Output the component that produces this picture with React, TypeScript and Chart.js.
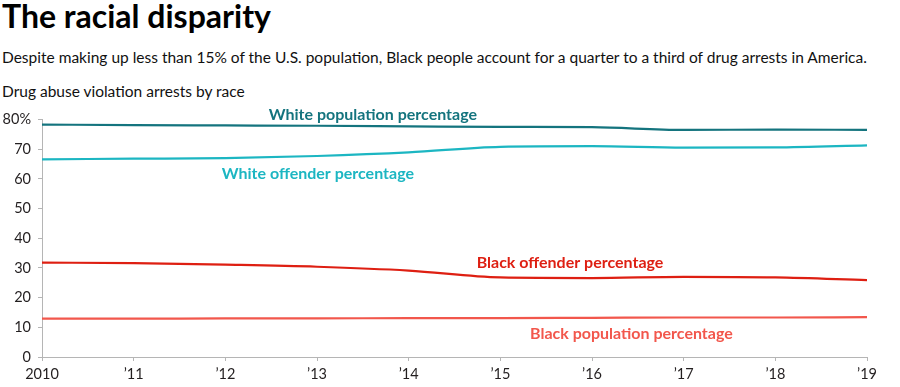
import React, { useEffect, useRef } from "react";
import { Chart, registerables } from "chart.js";

Chart.register(...registerables);

// ---- data ----
const years = [2010, 2011, 2012, 2013, 2014, 2015, 2016, 2017, 2018, 2019];
const xTickLabels = ["2010", "\u201911", "\u201912", "\u201913", "\u201914", "\u201915", "\u201916", "\u201917", "\u201918", "\u201919"];
const whitePopulation = [78.3, 78.1, 78.0, 77.9, 77.7, 77.5, 77.4, 76.5, 76.6, 76.5];
const whiteOffender = [66.6, 66.8, 67.0, 67.7, 68.9, 70.8, 71.0, 70.5, 70.6, 71.3];
const blackOffender = [31.8, 31.6, 31.1, 30.4, 29.1, 26.8, 26.6, 27.0, 26.8, 25.9];
const blackPopulation = [12.9, 12.9, 13.0, 13.0, 13.1, 13.1, 13.2, 13.3, 13.3, 13.4];
const seriesNames = [
  "White population percentage",
  "White offender percentage",
  "Black offender percentage",
  "Black population percentage",
];
// label anchors in data units (year, percent)
const labelYears = [2013.61, 2013.01, 2015.76, 2016.43];
const labelValues = [81.6, 61.6, 31.6, 7.7];

const TITLE = "The racial disparity";
const SUBTITLE =
  "Despite making up less than 15% of the U.S. population, Black people account for a quarter to a third of drug arrests in America.";
const CHART_TITLE = "Drug abuse violation arrests by race";

const lineColors = ["#14747e", "#1cb6c2", "#de1f12", "#f2574c"];
const textColors = ["#14747e", "#1cb6c2", "#de1f12", "#f2574c"];
const FONT = "Lato, 'Open Sans', sans-serif";

const labelPlugin = {
  id: "seriesLabels",
  afterDatasetsDraw(chart: any) {
    const { ctx, scales } = chart;
    ctx.save();
    ctx.font = `bold 16px ${FONT}`;
    ctx.textAlign = "center";
    ctx.textBaseline = "middle";
    seriesNames.forEach((name, i) => {
      ctx.fillStyle = textColors[i];
      ctx.fillText(name, scales.x.getPixelForValue(labelYears[i]), scales.y.getPixelForValue(labelValues[i]));
    });
    ctx.restore();
  },
};

function LineChart() {
  const ref = useRef<HTMLCanvasElement | null>(null);
  useEffect(() => {
    if (!ref.current) return;
    const series = [whitePopulation, whiteOffender, blackOffender, blackPopulation];
    const chart = new Chart(ref.current, {
      type: "line",
      data: {
        datasets: series.map((arr, i) => ({
          label: seriesNames[i],
          data: years.map((x, j) => ({ x, y: arr[j] })),
          borderColor: lineColors[i],
          backgroundColor: lineColors[i],
          borderWidth: 2.2,
          pointRadius: 0,
          cubicInterpolationMode: "monotone" as const,
          fill: false,
        })),
      },
      options: {
        responsive: false,
        animation: false,
        layout: { padding: { left: 0, right: 33, top: 19.5, bottom: 0 } },
        plugins: { legend: { display: false }, tooltip: { enabled: false }, title: { display: false } },
        scales: {
          x: {
            type: "linear",
            min: 2010,
            max: 2019,
            afterFit: (s: any) => {
              s.height = 30;
            },
            ticks: {
              stepSize: 1,
              autoSkip: false,
              maxRotation: 0,
              padding: 5,
              color: "#231f20",
              font: { family: FONT, size: 14.5 },
              callback: (v: any) => {
                const k = years.indexOf(Number(v));
                return k >= 0 ? xTickLabels[k] : "";
              },
            },
            grid: { display: true, drawOnChartArea: false, drawTicks: true, tickLength: 4, color: "#b5b5b5" },
            border: { display: true, color: "#b5b5b5", width: 1 },
          },
          y: {
            min: 0,
            max: 80,
            afterFit: (s: any) => {
              s.width = 42;
            },
            ticks: {
              stepSize: 10,
              padding: 7,
              color: "#231f20",
              font: { family: FONT, size: 14.5 },
              callback: (v: any) => (Number(v) === 80 ? "80%" : String(v)),
            },
            grid: { display: true, drawOnChartArea: false, drawTicks: true, tickLength: 4, color: "#b5b5b5" },
            border: { display: true, color: "#b5b5b5", width: 1 },
          },
        },
      },
      plugins: [labelPlugin],
    });
    return () => chart.destroy();
  }, []);
  return (
    <canvas
      ref={ref}
      width={900}
      height={287}
      style={{ position: "absolute", left: 0, top: 100, width: 900, height: 287 }}
    />
  );
}

export default function App() {
  return (
    <div
      style={{
        position: "absolute",
        left: 0,
        top: 0,
        width: 900,
        height: 387,
        background: "#ffffff",
        overflow: "hidden",
        fontFamily: FONT,
        color: "#111",
      }}
    >
      <div
        style={{
          position: "absolute",
          left: 2,
          top: -3,
          fontSize: 32,
          lineHeight: "38px",
          fontWeight: 700,
          whiteSpace: "nowrap",
          color: "#000",
        }}
      >
        {TITLE}
      </div>
      <div
        style={{
          position: "absolute",
          left: 2,
          top: 48,
          fontSize: 15.5,
          lineHeight: "18px",
          whiteSpace: "nowrap",
          color: "#111",
        }}
      >
        {SUBTITLE}
      </div>
      <div
        style={{
          position: "absolute",
          left: 2,
          top: 81.5,
          fontSize: 15.5,
          lineHeight: "18px",
          whiteSpace: "nowrap",
          color: "#111",
        }}
      >
        {CHART_TITLE}
      </div>
      <LineChart />
    </div>
  );
}
